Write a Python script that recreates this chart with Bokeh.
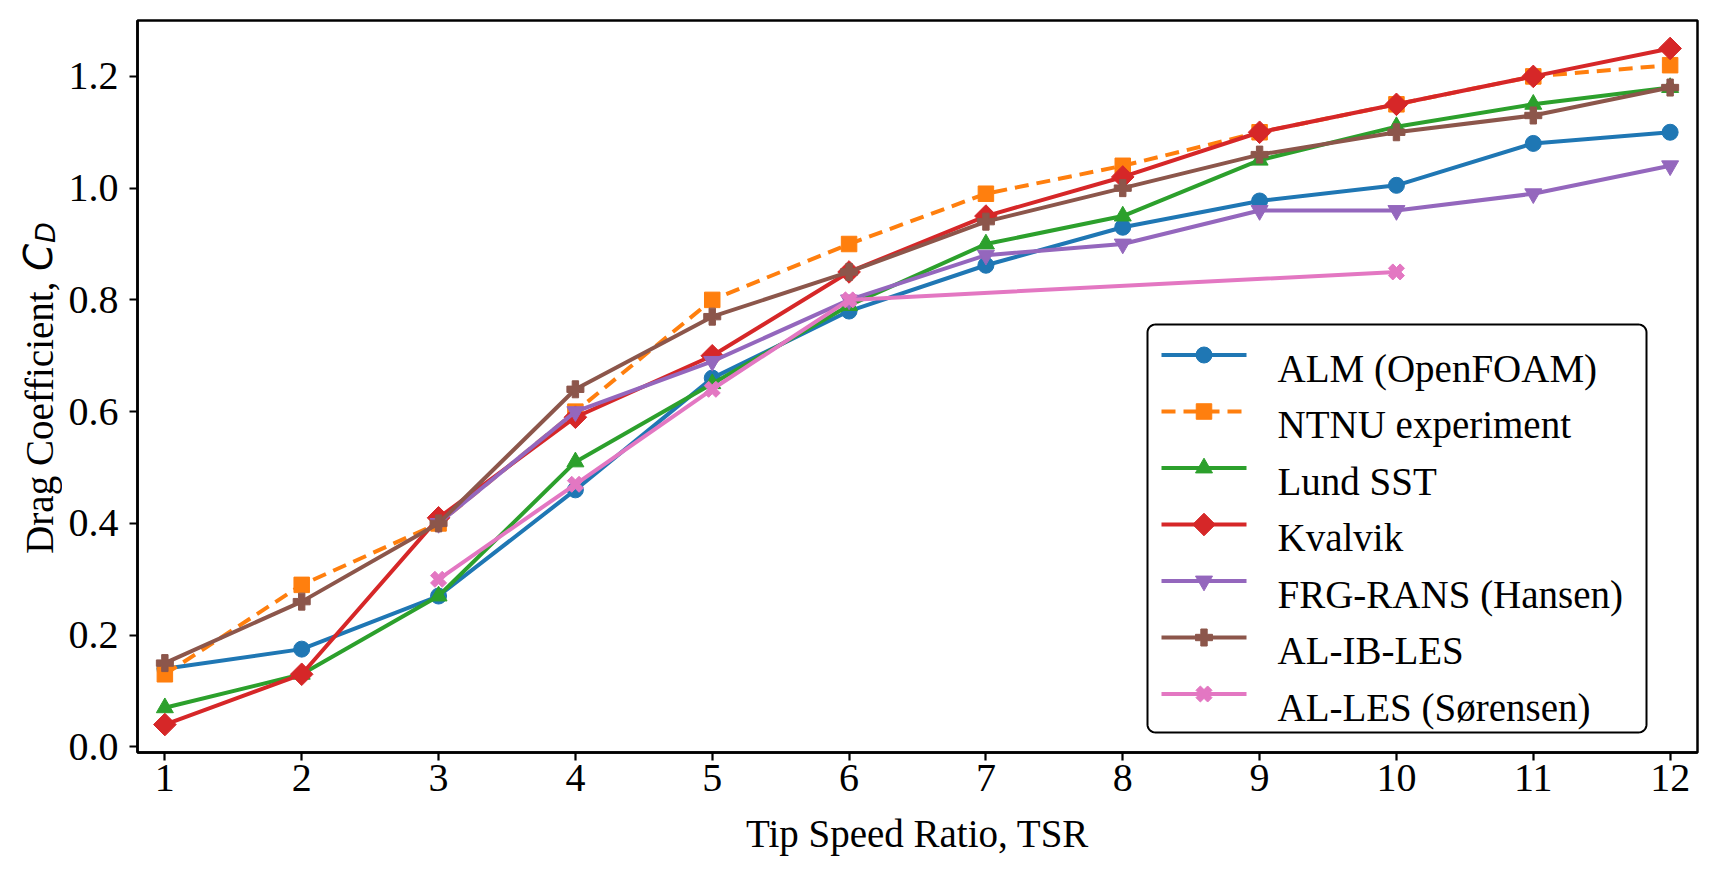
import numpy as np
from bokeh.plotting import figure
from bokeh.layouts import row
from bokeh.models import Range1d, FixedTicker, PrintfTickFormatter
from bokeh.core.properties import value
from bokeh.embed import file_html
from bokeh.resources import INLINE

# ---- data -------------------------------------------------------------
tsr = [1, 2, 3, 4, 5, 6, 7, 8, 9, 10, 11, 12]

alm_openfoam = [0.14, 0.175, 0.27, 0.46, 0.66, 0.78, 0.862, 0.93, 0.977, 1.005, 1.08, 1.10]
ntnu_experiment = [0.13, 0.29, 0.40, 0.60, 0.80, 0.90, 0.99, 1.04, 1.10, 1.15, 1.20, 1.22]
lund_sst = [0.07, 0.13, 0.27, 0.51, 0.65, 0.79, 0.90, 0.95, 1.05, 1.11, 1.15, 1.18]
kvalvik = [0.04, 0.13, 0.41, 0.59, 0.70, 0.85, 0.95, 1.02, 1.10, 1.15, 1.20, 1.25]

frg_tsr = [3, 4, 5, 6, 7, 8, 9, 10, 11, 12]
frg_rans_hansen = [0.40, 0.60, 0.69, 0.80, 0.88, 0.90, 0.96, 0.96, 0.99, 1.04]

al_ib_les = [0.15, 0.26, 0.40, 0.64, 0.77, 0.85, 0.94, 1.00, 1.06, 1.10, 1.13, 1.18]

sorensen_tsr = [3, 4, 5, 6, 10]
al_les_sorensen = [0.30, 0.47, 0.64, 0.80, 0.85]

x_ticks = [1, 2, 3, 4, 5, 6, 7, 8, 9, 10, 11, 12]
y_ticks = [0.0, 0.2, 0.4, 0.6, 0.8, 1.0, 1.2]

# ---- series styling ----------------------------------------------------
# (label, x, y, colour, marker, marker angle, marker size, dash)
series = [
    ("ALM (OpenFOAM)", tsr, alm_openfoam, "#1f77b4", "circle", 0.0, 16, None),
    ("NTNU experiment", tsr, ntnu_experiment, "#ff7f0e", "square", 0.0, 15.5, "14 8"),
    ("Lund SST", tsr, lund_sst, "#2ca02c", "triangle", 0.0, 17, None),
    ("Kvalvik", tsr, kvalvik, "#d62728", "square", np.pi / 4, 16, None),
    ("FRG-RANS (Hansen)", frg_tsr, frg_rans_hansen, "#9467bd", "inverted_triangle", 0.0, 17, None),
    ("AL-IB-LES", tsr, al_ib_les, "#8c564b", "plus", 0.0, 17, None),
    ("AL-LES (Sørensen)", sorensen_tsr, al_les_sorensen, "#e377c2", "plus", np.pi / 4, 16.5, None),
]

SERIF = "Liberation Serif"
PAGE_W, PAGE_H = 1716, 874
LABEL_W = 62                      # strip holding the rotated y-axis title
BORDER_L, BORDER_R, BORDER_T, BORDER_B = 75, 19, 20, 122
FRAME_L = LABEL_W + BORDER_L      # page x of the plot frame's left edge
FRAME_B = PAGE_H - BORDER_B       # page y of the plot frame's bottom edge
FRAME_W = PAGE_W - FRAME_L - BORDER_R
FRAME_H = PAGE_H - BORDER_T - BORDER_B

p = figure(width=PAGE_W - LABEL_W, height=PAGE_H, output_backend="svg",
           toolbar_location=None,
           x_range=Range1d(0.8, 12.2), y_range=Range1d(-0.01, 1.3),
           min_border_left=BORDER_L, min_border_right=BORDER_R,
           min_border_top=BORDER_T, min_border_bottom=BORDER_B)

# pixel-based ranges for the legend box drawn inside the frame
p.extra_x_ranges = {"px": Range1d(0, FRAME_W)}
p.extra_y_ranges = {"px": Range1d(0, FRAME_H)}

p.background_fill_color = "white"
p.border_fill_color = None
p.outline_line_color = "black"
p.outline_line_width = 2.5
p.grid.visible = False

for label, xs, ys, color, marker, ang, size, dash in series:
    line_kw = dict(line_color=color, line_width=4, line_join="round")
    if dash:
        line_kw["line_dash"] = dash
    p.line(xs, ys, **line_kw)
    p.scatter(xs, ys, marker=marker, angle=ang, size=size,
              fill_color=color, line_color=color, line_width=1)

# ---- axes ---------------------------------------------------------------
for ax in (p.xaxis, p.yaxis):
    ax.axis_line_color = "black"
    ax.axis_line_width = 2.5
    ax.major_tick_line_color = "black"
    ax.major_tick_line_width = 2.2
    ax.major_tick_out = 8
    ax.major_tick_in = 0
    ax.minor_tick_line_color = None
    ax.major_label_text_font = SERIF
    ax.major_label_text_font_size = "40px"
    ax.major_label_text_color = "black"

p.xaxis.ticker = FixedTicker(ticks=x_ticks)
p.yaxis.ticker = FixedTicker(ticks=y_ticks)
p.yaxis.formatter = PrintfTickFormatter(format="%.1f")
p.xaxis.major_label_standoff = 4
p.yaxis.major_label_standoff = 11

p.xaxis.axis_label = "Tip Speed Ratio, TSR"
p.xaxis.axis_label_text_font = SERIF
p.xaxis.axis_label_text_font_size = "39px"
p.xaxis.axis_label_text_font_style = "normal"
p.xaxis.axis_label_text_color = "black"
p.xaxis.axis_label_standoff = 18

# ---- legend (box, keys and labels, in frame pixels) ----------------------
def fx(page_x):
    return page_x - FRAME_L


def fy(page_y):
    return FRAME_B - page_y


def rounded_rect(x0, y0, x1, y1, r, n=10):
    xs, ys = [], []
    corners = [(x1 - r, y1 - r, 0.0), (x0 + r, y1 - r, 90.0),
               (x0 + r, y0 + r, 180.0), (x1 - r, y0 + r, 270.0)]
    for cx, cy, a0 in corners:
        for t in np.radians(np.linspace(a0, a0 + 90.0, n)):
            xs.append(cx + r * np.cos(t))
            ys.append(cy + r * np.sin(t))
    return xs, ys


LEG_LEFT, LEG_RIGHT, LEG_TOP, LEG_BOTTOM = 1147, 1646, 324, 732
ROW0, ROW_STEP = 354.5, 56.5
KEY_X0, KEY_X1, TEXT_X = 1161, 1246, 1277
px = dict(x_range_name="px", y_range_name="px")

bx, by = rounded_rect(fx(LEG_LEFT), fy(LEG_BOTTOM), fx(LEG_RIGHT), fy(LEG_TOP), 8)
p.patch(bx, by, fill_color="white", line_color="black", line_width=2, **px)

for i, (label, xs, ys, color, marker, ang, size, dash) in enumerate(series):
    ky = fy(ROW0 + i * ROW_STEP)
    key_kw = dict(line_color=color, line_width=4)
    if dash:
        key_kw["line_dash"] = dash
    p.line([fx(KEY_X0), fx(KEY_X1)], [ky, ky], **key_kw, **px)
    p.scatter([fx((KEY_X0 + KEY_X1) / 2)], [ky], marker=marker, angle=ang,
              size=size, fill_color=color, line_color=color, line_width=1, **px)
    p.text([fx(TEXT_X)], [ky - 13], text=[label], text_font=value(SERIF),
           text_font_size=value("39px"), text_color="black",
           text_align="left", text_baseline="alphabetic", **px)

# ---- rotated y-axis title: "Drag Coefficient, C_D" -----------------------
lab = figure(width=LABEL_W, height=PAGE_H, output_backend="svg",
             toolbar_location=None, x_range=Range1d(0, LABEL_W),
             y_range=Range1d(0, FRAME_H),
             min_border_left=0, min_border_right=0,
             min_border_top=BORDER_T, min_border_bottom=BORDER_B,
             x_axis_type=None, y_axis_type=None)
lab.outline_line_color = None
lab.grid.visible = False
lab.background_fill_color = "white"
lab.border_fill_color = "white"

TITLE_BASE = 39                   # page x of the title's baseline
title_kw = dict(angle=np.pi / 2, text_align="left", text_baseline="alphabetic",
                text_color="black")
lab.text(x=[TITLE_BASE], y=[fy(553.3)], text=["Drag Coefficient, "],
         text_font=value(SERIF), text_font_size=value("39px"), **title_kw)
lab.text(x=[TITLE_BASE - 1], y=[fy(270.6)], text=["C"],
         text_font=value("DejaVu Sans"), text_font_style="italic",
         text_font_size=value("39px"), **title_kw)
lab.text(x=[TITLE_BASE + 6], y=[fy(242.5)], text=["D"],
         text_font=value("DejaVu Sans"), text_font_style="italic",
         text_font_size=value("27px"), **title_kw)

layout = row(lab, p, spacing=0)

open("out.html", "w").write(file_html(layout, INLINE))
